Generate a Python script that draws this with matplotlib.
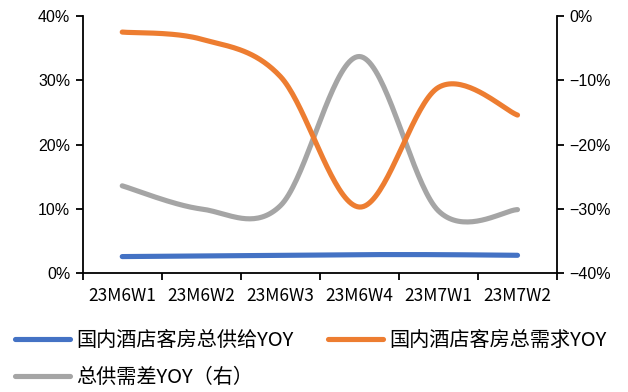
import numpy as np
import matplotlib
matplotlib.use('Agg')
import matplotlib.pyplot as plt
from matplotlib.ticker import FuncFormatter, FixedLocator

weeks = ['23M6W1', '23M6W2', '23M6W3', '23M6W4', '23M7W1', '23M7W2']
supply_yoy = [2.6, 2.7, 2.8, 2.9, 2.9, 2.8]        # 国内酒店客房总供给YOY, %
demand_yoy = [37.5, 36.4, 30.6, 10.3, 28.9, 24.6]  # 国内酒店客房总需求YOY, %
gap_yoy = [-26.4, -30.0, -29.5, -6.3, -30.3, -30.1]  # 总供需差YOY (right axis), %

labels = ['国内酒店客房总供给YOY', '国内酒店客房总需求YOY', '总供需差YOY（右）']
colors = ['#4472C4', '#ED7D31', '#A5A5A5']

cjk = ['Noto Sans CJK SC', 'DejaVu Sans']
plt.rcParams['font.family'] = ['Liberation Sans', 'DejaVu Sans']


def smooth(y, n=40):
    # bezier smoothing through every point (catmull-rom style control points)
    y = np.asarray(y, dtype=float)
    x = np.arange(len(y), dtype=float)
    pts = np.column_stack([x, y])
    ext = np.vstack([pts[0], pts, pts[-1]])
    out = []
    t = np.linspace(0, 1, n)[:, None]
    for i in range(len(pts) - 1):
        p0 = ext[i + 1]
        p3 = ext[i + 2]
        c1 = p0 + (ext[i + 2] - ext[i]) / 6
        c2 = p3 - (ext[i + 3] - ext[i + 1]) / 6
        seg = ((1 - t) ** 3) * p0 + 3 * ((1 - t) ** 2) * t * c1 \
            + 3 * (1 - t) * t ** 2 * c2 + t ** 3 * p3
        out.append(seg if i == 0 else seg[1:])
    seg = np.vstack(out)
    return seg[:, 0], seg[:, 1]


fig = plt.figure(figsize=(6.28, 3.92), dpi=100)
ax = fig.add_axes([0.1317, 0.3028, 0.7553, 0.6564])
ax2 = ax.twinx()

lw = 3.7
xs, ys = smooth(supply_yoy)
l1, = ax.plot(xs, ys, color=colors[0], lw=lw, solid_capstyle='round', label=labels[0])
xs, ys = smooth(demand_yoy)
l2, = ax.plot(xs, ys, color=colors[1], lw=lw, solid_capstyle='round', label=labels[1])
xs, ys = smooth(gap_yoy)
l3, = ax2.plot(xs, ys, color=colors[2], lw=lw, solid_capstyle='round', label=labels[2])

ax.set_zorder(ax2.get_zorder() + 1)
ax.patch.set_visible(False)

ax.set_xlim(-0.5, len(weeks) - 0.5)
ax.set_ylim(0, 40)
ax2.set_ylim(-40, 0)
ax.set_yticks([0, 10, 20, 30, 40])
ax2.set_yticks([-40, -30, -20, -10, 0])

pct = FuncFormatter(lambda v, p: '{:.0f}%'.format(v).replace('-', '\u2212'))
ax.yaxis.set_major_formatter(pct)
ax2.yaxis.set_major_formatter(pct)

# category labels sit between the tick marks
ax.xaxis.set_major_locator(FixedLocator(np.arange(-0.5, len(weeks), 1.0)))
ax.xaxis.set_minor_locator(FixedLocator(np.arange(len(weeks))))
ax.set_xticklabels([])
ax.set_xticklabels(weeks, minor=True, family=cjk, fontsize=12.5)
ax.tick_params(axis='x', which='minor', length=0, pad=10)
ax.tick_params(axis='x', which='major', length=5, width=1.3, direction='out')

for a in (ax, ax2):
    for s in a.spines.values():
        s.set_linewidth(1.3)
    a.spines['top'].set_visible(False)
ax.spines['right'].set_visible(False)
ax2.spines['left'].set_visible(False)
ax2.spines['bottom'].set_visible(False)

ax.tick_params(axis='y', length=5, width=1.3, pad=4, labelsize=11.5)
ax2.tick_params(axis='y', length=5, width=1.3, pad=4, labelsize=11.5)

leg = fig.legend([l1, l3, l2], [labels[0], labels[2], labels[1]],
                 ncol=2, loc='upper left', bbox_to_anchor=(0.024, 0.158),
                 frameon=False, prop={'family': cjk, 'size': 14.5},
                 handlelength=2.75, handletextpad=0.3, columnspacing=1.7,
                 labelspacing=0.8, borderaxespad=0, borderpad=0)

fig.savefig('out.png', dpi=100)
